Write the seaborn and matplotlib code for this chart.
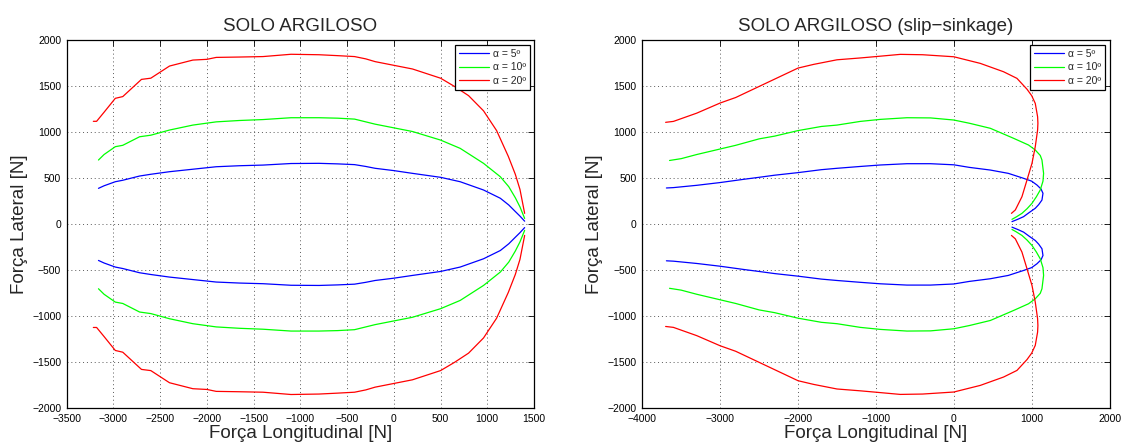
import matplotlib
matplotlib.use("Agg")
import matplotlib.pyplot as plt
from matplotlib.lines import Line2D
import pandas as pd
import seaborn as sns

# ---------------- data: SOLO ARGILOSO ----------------
# upper branch (positive lateral force), longitudinal force [N]
a_blue_x = [-3160, -3100, -2980, -2900, -2720, -2600, -2400, -2150, -1900, -1650, -1400, -1100,
            -800, -600, -420, -300, -200, 0, 200, 500, 710, 960, 1140, 1230, 1300, 1350, 1400]
a_blue_up = [392, 420, 464, 480, 526, 545, 573, 600, 627, 638, 645, 662,
             664, 658, 650, 630, 610, 585, 555, 512, 464, 374, 284, 211, 140, 90, 35]
a_blue_dn = [-392, -420, -464, -480, -526, -545, -573, -600, -627, -638, -645, -662,
             -664, -658, -650, -630, -610, -585, -555, -512, -464, -374, -284, -211, -140, -90, -35]

a_green_x = a_blue_x
a_green_up = [700, 760, 845, 860, 953, 970, 1026, 1080, 1115, 1130, 1140, 1160,
              1160, 1155, 1145, 1115, 1090, 1050, 1010, 917, 827, 664, 518, 410, 290, 190, 65]
a_green_dn = [-700, -760, -845, -860, -953, -970, -1026, -1080, -1115, -1130, -1140, -1160,
              -1160, -1155, -1145, -1115, -1090, -1050, -1010, -917, -827, -664, -518, -410, -290, -190, -65]

a_red_x = [-3215, -3180, -3100, -2980, -2900, -2700, -2600, -2400, -2150, -2000, -1900, -1650,
           -1400, -1100, -800, -600, -420, -300, -200, 0, 200, 500, 650, 800, 960, 1100, 1225,
           1300, 1350, 1400]
a_red_up = [1121, 1121, 1220, 1371, 1390, 1577, 1590, 1722, 1787, 1795, 1816, 1820,
            1825, 1850, 1845, 1835, 1825, 1800, 1770, 1730, 1690, 1590, 1500, 1400, 1235, 1020, 740,
            545, 380, 120]
a_red_dn = [-1121, -1121, -1220, -1371, -1390, -1577, -1590, -1722, -1787, -1795, -1816, -1820,
            -1825, -1850, -1845, -1835, -1825, -1800, -1770, -1730, -1690, -1590, -1500, -1400, -1235, -1020, -740,
            -545, -380, -120]

# ---------------- data: SOLO ARGILOSO (slip-sinkage) ----------------
b_blue_x = [-3690, -3600, -3300, -3000, -2700, -2500, -2300, -2000, -1700, -1500, -1200, -943,
            -601, -300, 0, 200, 469, 700, 896, 1000, 1068, 1120, 1145, 1132, 1090, 1046, 970,
            896, 820, 747]
b_blue_up = [396, 400, 425, 455, 490, 512, 535, 563, 595, 610, 630, 646,
             660, 660, 648, 620, 591, 555, 501, 470, 428, 385, 338, 265, 215, 175, 130,
             84, 55, 30]
b_blue_dn = [-396, -400, -425, -455, -490, -512, -535, -563, -595, -610, -630, -646,
             -660, -660, -648, -620, -591, -555, -501, -470, -428, -385, -338, -265, -215, -175, -130,
             -84, -55, -30]

b_green_x = [-3650, -3500, -3300, -3000, -2800, -2500, -2300, -2000, -1700, -1500, -1200, -943,
             -601, -300, 0, 200, 469, 768, 960, 1046, 1110, 1132, 1153, 1145, 1110, 1060, 1004,
             940, 875, 800, 747]
b_green_up = [695, 715, 760, 820, 860, 930, 960, 1020, 1065, 1080, 1120, 1142,
              1160, 1158, 1135, 1100, 1045, 936, 863, 809, 750, 700, 555, 470, 374, 300, 229,
              170, 120, 80, 55]
b_green_dn = [-695, -715, -760, -820, -860, -930, -960, -1020, -1065, -1080, -1120, -1142,
              -1160, -1158, -1135, -1100, -1045, -936, -863, -809, -750, -700, -555, -470, -374, -300, -229,
              -170, -120, -80, -55]

b_red_x = [-3700, -3600, -3500, -3300, -3000, -2800, -2500, -2300, -2000, -1800, -1500, -1200,
           -1000, -687, -400, 0, 340, 639, 811, 940, 1000, 1046, 1076, 1080, 1076, 1046, 1004,
           940, 875, 790, 740]
b_red_up = [1110, 1120, 1150, 1210, 1320, 1380, 1500, 1580, 1700, 1740, 1790, 1810,
            1825, 1849, 1845, 1823, 1751, 1660, 1588, 1470, 1400, 1316, 1171, 1100, 1026, 845, 664,
            483, 301, 157, 120]
b_red_dn = [-1110, -1120, -1150, -1210, -1320, -1380, -1500, -1580, -1700, -1740, -1790, -1810,
            -1825, -1849, -1845, -1823, -1751, -1660, -1588, -1470, -1400, -1316, -1171, -1100, -1026, -845, -664,
            -483, -301, -157, -120]

labels = ["α = 5º", "α = 10º", "α = 20º"]
colors = ["#0000ff", "#00ff00", "#ff0000"]


def make_frame(series):
    rows = []
    for label, x, up, dn in series:
        for branch, ys in (("up", up), ("dn", dn)):
            for i, (xv, yv) in enumerate(zip(x, ys)):
                rows.append({"long": xv, "lat": yv, "alpha": label,
                             "branch": branch, "order": i})
    return pd.DataFrame(rows)


df_a = make_frame([(labels[0], a_blue_x, a_blue_up, a_blue_dn),
                   (labels[1], a_green_x, a_green_up, a_green_dn),
                   (labels[2], a_red_x, a_red_up, a_red_dn)])
df_b = make_frame([(labels[0], b_blue_x, b_blue_up, b_blue_dn),
                   (labels[1], b_green_x, b_green_up, b_green_dn),
                   (labels[2], b_red_x, b_red_up, b_red_dn)])

sns.set_theme(style="white")
plt.rcParams["font.family"] = ["Liberation Sans", "DejaVu Sans"]

fig = plt.figure(figsize=(11.26, 4.46), dpi=100)
ax_a = fig.add_axes([0.05924, 0.08453, 0.4150, 0.8247])
ax_b = fig.add_axes([0.5704, 0.08453, 0.4150, 0.8247])

palette = dict(zip(labels, colors))


def draw(ax, df, title, xlim, xticks):
    sns.lineplot(data=df, x="long", y="lat", hue="alpha", units="branch",
                 estimator=None, sort=False, palette=palette, hue_order=labels,
                 linewidth=0.9, legend=False, ax=ax)
    ax.set_xlim(*xlim)
    ax.set_ylim(-2000, 2000)
    ax.set_xticks(xticks)
    ax.set_yticks(range(-2000, 2001, 500))
    ax.grid(True, linestyle=(0, (1, 3)), color="0.35", linewidth=0.7)
    ax.set_axisbelow(True)
    ax.tick_params(direction="in", top=True, right=True, length=4, width=0.6,
                   labelsize=7.5, pad=4, colors="black")
    for s in ax.spines.values():
        s.set_color("black")
        s.set_linewidth(0.9)
    ax.set_title(title, fontsize=13.5, pad=7)
    ax.set_xlabel("Força Longitudinal [N]", fontsize=13.5, labelpad=1)
    ax.set_ylabel("Força Lateral [N]", fontsize=13.5, labelpad=3)
    handles = [Line2D([], [], color=c, lw=0.9) for c in colors]
    leg = ax.legend(handles, labels, loc="upper right", fontsize=7.5,
                    handlelength=2.9, handletextpad=0.35, labelspacing=0.35,
                    borderpad=0.4, borderaxespad=0.4, fancybox=False,
                    framealpha=1, edgecolor="black")
    leg.get_frame().set_linewidth(0.9)


draw(ax_a, df_a, "SOLO ARGILOSO", (-3500, 1500), range(-3500, 1501, 500))
draw(ax_b, df_b, "SOLO ARGILOSO (slip−sinkage)", (-4000, 2000), range(-4000, 2001, 1000))

fig.savefig("out.png", dpi=100)
